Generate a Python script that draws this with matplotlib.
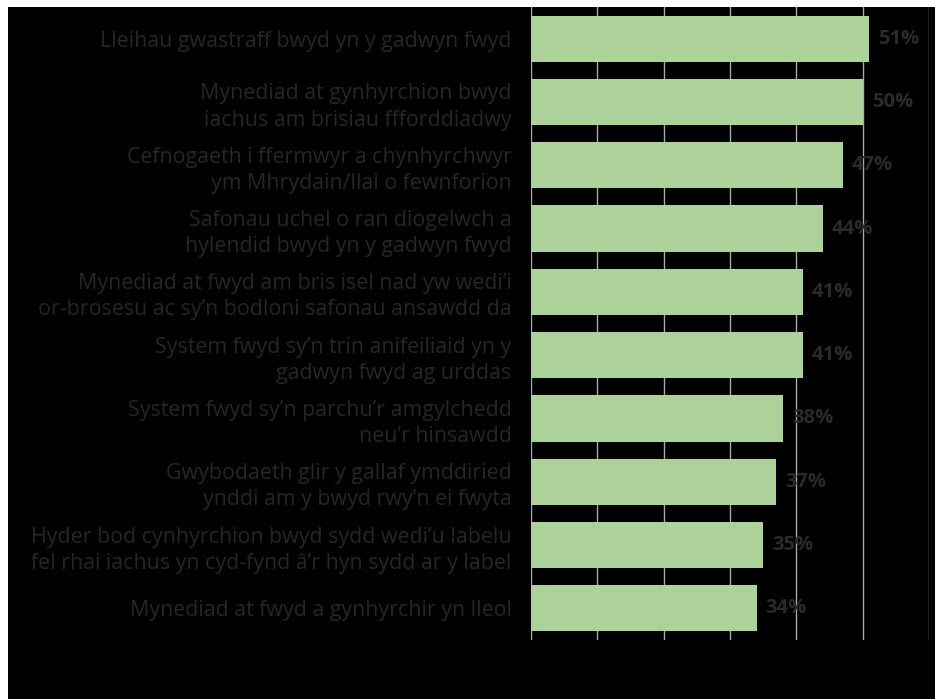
import matplotlib
matplotlib.use("Agg")
import matplotlib.pyplot as plt
from matplotlib.patches import Rectangle

labels = [
    "Lleihau gwastraff bwyd yn y gadwyn fwyd",
    "Mynediad at gynhyrchion bwyd\niachus am brisiau ffforddiadwy",
    "Cefnogaeth i ffermwyr a chynhyrchwyr\nym Mhrydain/llai o fewnforion",
    "Safonau uchel o ran diogelwch a\nhylendid bwyd yn y gadwyn fwyd",
    "Mynediad at fwyd am bris isel nad yw wedi\u2019i\nor-brosesu ac sy\u2019n bodloni safonau ansawdd da",
    "System fwyd sy\u2019n trin anifeiliaid yn y\ngadwyn fwyd ag urddas",
    "System fwyd sy\u2019n parchu\u2019r amgylchedd\nneu\u2019r hinsawdd",
    "Gwybodaeth glir y gallaf ymddiried\nynddi am y bwyd rwy\u2019n ei fwyta",
    "Hyder bod cynhyrchion bwyd sydd wedi\u2019u labelu\nfel rhai iachus yn cyd-fynd \u00e2\u2019r hyn sydd ar y label",
    "Mynediad at fwyd a gynhyrchir yn lleol",
]
values = [51, 50, 47, 44, 41, 41, 38, 37, 35, 34]

plt.rcParams['font.family'] = ['Open Sans', 'DejaVu Sans']

fig = plt.figure(figsize=(9.35, 6.99), dpi=100, facecolor="white")
# black panel
fig.patches.append(Rectangle((8 / 935, 0), 1, 1 - 7 / 699, transform=fig.transFigure,
                             facecolor="black", edgecolor="none", zorder=-10))

ax = fig.add_axes([531 / 935, 1 - 640 / 699, 398 / 935, 633 / 699])
ax.set_facecolor("black")

y = list(range(len(values)))
ax.barh(y, values, height=0.73, color="#acd29a", zorder=2)
ax.set_xlim(0, 60)
ax.set_ylim(len(values) - 0.5, -0.5)

ax.set_xticks(range(0, 61, 10))
ax.xaxis.grid(True, color="#a8a8a8", linewidth=1)
ax.set_axisbelow(True)
ax.tick_params(axis="x", length=0, labelbottom=False)

ax.set_yticks(y)
ax.set_yticklabels(labels, fontsize=15.4, color="#262626", linespacing=1.32)
ax.tick_params(axis="y", length=0, pad=14)

for s in ax.spines.values():
    s.set_visible(False)

for i, v in enumerate(values):
    ax.annotate(f"{v}%", (v, i), xytext=(6.5, 0), textcoords="offset points",
                va="center", ha="left", fontsize=14.5, fontweight="bold", color="#2a2a2a")

fig.savefig("out.png", dpi=100, facecolor="white")
